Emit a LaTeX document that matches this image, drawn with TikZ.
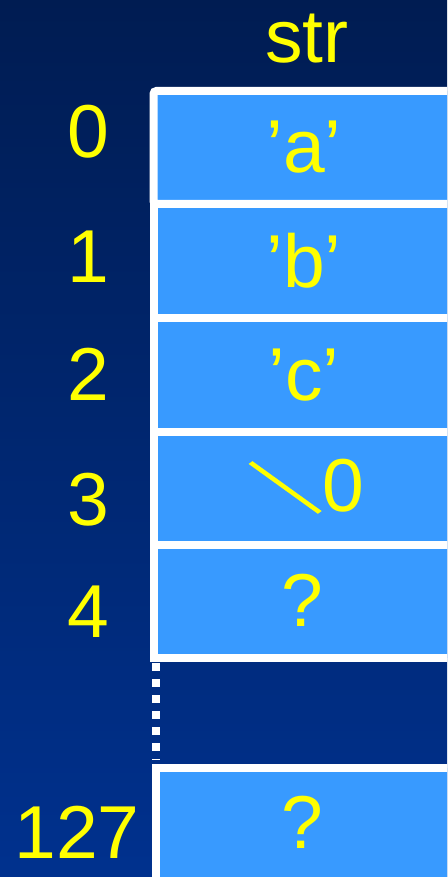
\documentclass[tikz,border=0pt]{standalone}
\usepackage{fontspec}
\usepackage{graphicx}
\setmainfont{Liberation Sans}
\newfontfamily\cjk{Noto Sans CJK SC}[FakeBold=3]
\definecolor{bgtop}{RGB}{0,28,82}
\definecolor{bgbot}{RGB}{0,49,142}
\definecolor{cellblue}{RGB}{56,154,255}
\definecolor{txtyellow}{RGB}{255,255,0}
\begin{document}
\begin{tikzpicture}[x=1pt,y=-1pt,
  cellbox/.style={fill=cellblue,draw=white,line width=8pt},
  lbl/.style={text=txtyellow,inner sep=0pt,anchor=base,font=\fontsize{75}{80}\selectfont},
]
\useasboundingbox (0,0) rectangle (447,877);
\shade[top color=bgtop,bottom color=bgbot] (0,0) rectangle (447,877);
\begin{scope}
\clip (0,0) rectangle (447,877);
\draw[cellbox,rounded corners=3pt] (153.5,91) rectangle (470,204);
\draw[cellbox] (153.5,204) rectangle (470,318);
\draw[cellbox] (153.5,318) rectangle (470,431.5);
\draw[cellbox] (153.5,431.5) rectangle (470,544.5);
\draw[cellbox] (153.5,544.5) rectangle (470,658);
\draw[cellbox] (156,767.5) rectangle (470,900);
\coordinate (gtop) at (156,663);
\coordinate (gbot) at (156,760);
\draw[white,line width=8pt,dash pattern=on 8pt off 8pt] (gtop) -- (gbot);
\end{scope}
\node[lbl] (title) at (307,63) {str};
\node[lbl] (i0) at (88,158) {0};
\node[lbl] (i1) at (88,282) {1};
\node[lbl] (i2) at (88,400) {2};
\node[lbl] (i3) at (88,525) {3};
\node[lbl] (i4) at (88,637) {4};
\node[lbl] (i127) at (77,858) {127};
\node[lbl] (c0) at (304,173) {’a’};
\node[lbl] (c1) at (304,287) {’b’};
\node[lbl] (c2) at (304,400) {’c’};
\node[lbl] (c3) at (306,511) {\raisebox{3pt}{\scalebox{1}[0.72]{\cjk ＼}}0};
\node[lbl] (c4) at (302,626) {?};
\node[lbl] (c127) at (302,848) {?};
\end{tikzpicture}
\end{document}
